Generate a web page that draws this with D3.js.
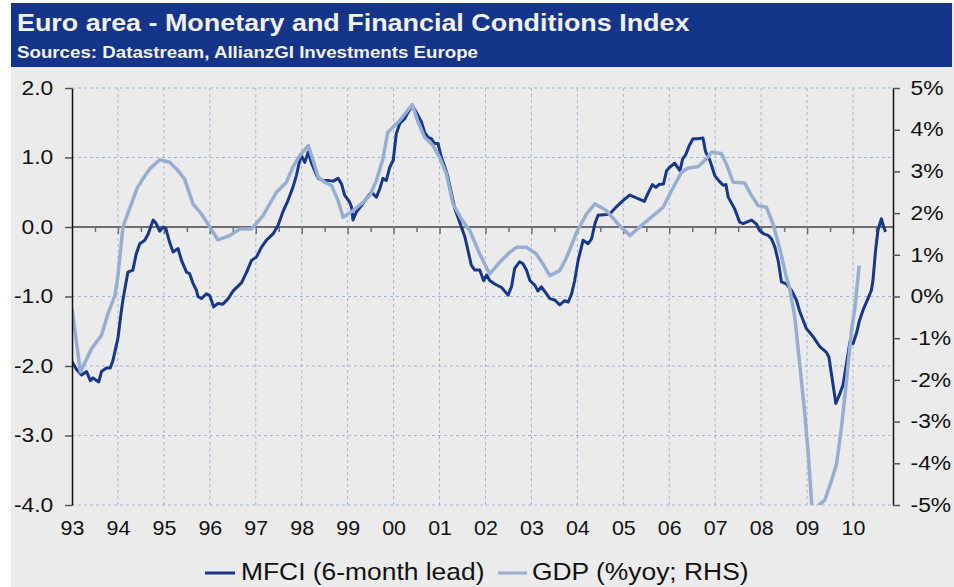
<!DOCTYPE html>
<html><head><meta charset="utf-8">
<script src="https://cdn.jsdelivr.net/npm/d3@7"></script>
<style>
body{margin:0;background:#fff}
svg{display:block}
text{font-family:"Liberation Sans",Arial,sans-serif}
</style></head>
<body><svg id="c" width="954" height="587"></svg>
<script>
// ---------- data ----------
const yearTicks = [1993,1994,1995,1996,1997,1998,1999,2000,2001,2002,2003,2004,2005,2006,2007,2008,2009,2010];
const yearLabels = ["93","94","95","96","97","98","99","00","01","02","03","04","05","06","07","08","09","10"];
const leftTicks = [-4,-3,-2,-1,0,1,2];
const rightTicks = [-5,-4,-3,-2,-1,0,1,2,3,4,5];

// MFCI (6-month lead): months since Jan 1993, index value
const mfciMonth = [0,1.2,2.5,3.8,4.8,5.5,6.2,7.0,7.7,9.0,10.0,10.7,12.0,12.9,13.3,14.2,14.6,15.9,16.8,17.7,19.0,19.9,21.2,22.0,22.9,23.8,24.5,25.5,26.4,27.7,28.6,29.9,30.7,31.6,32.5,32.9,33.8,35.1,36.0,37.0,38.1,39.4,40.8,42.1,44.3,45.6,46.9,48.2,49.5,50.8,52.5,53.8,55.1,56.4,57.7,58.6,59.5,59.9,60.8,61.7,62.5,63.4,64.3,65.6,66.9,68.2,69.5,70.4,71.2,72.5,73.0,73.4,74.3,75.6,76.9,78.2,79.5,80.4,81.2,82.1,83.0,83.9,84.7,85.6,86.9,87.8,88.9,90.4,91.3,92.1,93.0,93.9,94.7,95.6,96.5,97.4,98.2,99.1,100.0,100.8,101.7,102.6,103.4,104.3,105.2,106.5,107.5,108.3,109.1,110.4,112.2,113.9,114.8,115.6,116.9,117.8,118.7,119.6,120.9,121.7,122.6,123.9,124.8,126.1,127.4,128.7,129.6,130.5,131.3,132.2,133.5,134.8,135.7,136.6,137.4,139.6,140.5,142.2,143.9,145.7,147.4,149.5,150.4,151.6,152.5,153.3,154.5,155.3,156.1,157.4,158.8,159.5,160.3,161.2,162.2,163.5,164.8,165.5,166.6,167.9,169.2,170.1,170.8,171.4,172.3,173.1,174.4,175.3,176.2,177.5,178.8,179.6,180.7,181.8,182.7,183.6,184.5,185.3,186.6,187.9,189.2,190.1,191.8,193.6,195.3,197.0,197.7,198.4,199.0,199.5,200.4,201.4,202.3,203.2,204.0,204.9,205.7,206.8,207.9,208.8,209.2,209.9,210.5,211.4,212.0,212.5];
const mfciValue = [-1.94,-2.05,-2.13,-2.08,-2.21,-2.17,-2.20,-2.23,-2.08,-2.03,-2.03,-1.92,-1.60,-1.20,-1.05,-0.77,-0.65,-0.62,-0.38,-0.24,-0.19,-0.10,0.10,0.05,-0.06,0.00,-0.02,-0.22,-0.36,-0.31,-0.48,-0.65,-0.67,-0.81,-0.91,-1.00,-1.03,-0.96,-0.99,-1.15,-1.10,-1.11,-1.03,-0.92,-0.80,-0.65,-0.48,-0.43,-0.29,-0.19,-0.10,0.02,0.22,0.38,0.57,0.74,0.96,1.03,0.93,1.08,0.93,0.81,0.70,0.67,0.67,0.66,0.70,0.62,0.46,0.36,0.29,0.10,0.22,0.31,0.41,0.50,0.43,0.55,0.70,0.67,0.86,0.96,1.34,1.49,1.56,1.65,1.75,1.60,1.51,1.36,1.29,1.27,1.20,1.20,1.00,0.86,0.72,0.48,0.26,0.14,0.00,-0.14,-0.33,-0.55,-0.62,-0.62,-0.77,-0.69,-0.77,-0.82,-0.87,-0.98,-0.86,-0.60,-0.50,-0.53,-0.62,-0.77,-0.84,-0.92,-0.86,-0.96,-1.03,-1.05,-1.12,-1.06,-1.08,-0.96,-0.77,-0.48,-0.19,-0.24,-0.17,0.05,0.17,0.18,0.19,0.29,0.38,0.46,0.42,0.37,0.48,0.61,0.57,0.61,0.62,0.81,0.86,0.92,0.81,0.98,1.04,1.17,1.27,1.27,1.28,1.08,0.96,0.74,0.65,0.60,0.61,0.43,0.34,0.26,0.07,0.05,0.07,0.10,0.04,-0.05,-0.10,-0.12,-0.17,-0.29,-0.50,-0.79,-0.82,-0.91,-1.05,-1.22,-1.46,-1.58,-1.72,-1.80,-1.87,-2.13,-2.35,-2.54,-2.42,-2.27,-1.96,-1.65,-1.68,-1.53,-1.34,-1.17,-1.03,-0.91,-0.77,-0.33,-0.05,0.12,0.00,-0.07];

// GDP (%yoy; RHS): months since Jan 1993, percent
const gdpMonth = [0,2.2,5.1,7.7,9.4,10.7,11.2,12.0,13.3,14.2,15.5,17.0,18.5,20.3,22.9,25.5,27.3,29.4,31.6,33.8,35.5,38.1,41.2,43.8,46.9,49.9,53.4,56.0,57.7,59.5,61.7,63.0,64.3,66.0,67.8,69.5,70.8,73.4,76.0,77.8,79.5,81.2,82.5,85.6,88.9,90.4,92.1,94.3,96.0,97.8,99.5,101.7,103.9,106.5,109.1,111.7,114.3,116.1,118.7,121.3,123.0,124.8,127.4,129.2,131.8,134.4,136.6,139.6,142.6,145.7,149.2,151.8,154.4,156.6,159.2,160.9,163.5,165.7,167.0,169.6,170.9,172.7,175.7,177.5,179.2,181.4,183.1,184.9,186.6,187.4,188.8,190.1,191.4,192.3,193.2,194.0,195.3,196.6,198.4,199.7,201.0,202.3,203.6,204.5,205.6];
const gdpValue = [-0.29,-1.81,-1.25,-0.93,-0.41,-0.10,0.02,0.50,1.66,1.90,2.22,2.60,2.82,3.06,3.28,3.22,3.06,2.82,2.22,1.98,1.74,1.36,1.46,1.62,1.62,1.94,2.50,2.74,3.10,3.38,3.62,3.26,2.86,2.74,2.66,2.30,1.90,2.06,2.26,2.42,2.78,3.30,3.94,4.22,4.60,4.18,3.82,3.62,3.34,2.94,2.22,1.86,1.58,1.02,0.54,0.82,1.06,1.18,1.18,1.02,0.78,0.50,0.62,0.94,1.54,1.98,2.22,2.06,1.74,1.46,1.74,1.94,2.14,2.54,2.98,3.08,3.11,3.30,3.46,3.43,3.18,2.74,2.72,2.42,2.18,2.14,1.74,1.14,0.46,0.22,-0.50,-1.65,-2.81,-3.77,-4.97,-5.20,-4.98,-4.89,-4.41,-4.01,-3.13,-2.01,-0.81,-0.26,0.74];

// ---------- layout ----------
const k = 1.17; // horizontal text stretch of the original
const svg = d3.select('#c');
const L = 72, R = 893, T = 88, B = 505;

svg.append('rect').attr('x', 11).attr('y', 3).attr('width', 943).attr('height', 584).attr('fill', '#ebebeb');
svg.append('rect').attr('x', 11).attr('y', 3).attr('width', 941).attr('height', 64).attr('fill', '#14358a');

function sText(x, y, str, size, opts = {}) {
  const kk = opts.k || k;
  return svg.append('text')
    .attr('transform', `translate(${x},${y}) scale(${kk},1)`)
    .attr('font-size', size)
    .attr('font-weight', opts.weight || 'normal')
    .attr('fill', opts.fill || '#111')
    .attr('text-anchor', opts.anchor || 'start')
    .text(str);
}
sText(17, 31, 'Euro area - Monetary and Financial Conditions Index', 23, {weight: 'bold', fill: '#f2f2f2'});
sText(17, 58, 'Sources: Datastream, AllianzGI Investments Europe', 16, {weight: 'bold', fill: '#f2f2f2'});

const x = d3.scaleLinear().domain([1993, 2010.87]).range([L, R]);
const yL = d3.scaleLinear().domain([-4, 2]).range([B, T]);
const yR = d3.scaleLinear().domain([-5, 5]).range([B, T]);

// grid
const grid = svg.append('g').attr('stroke', '#a3b6d6').attr('stroke-width', 1).attr('stroke-dasharray', '3,3');
grid.selectAll('.h').data(leftTicks.filter(d => d !== 0)).join('line')
  .attr('x1', L).attr('x2', R).attr('y1', d => yL(d)).attr('y2', d => yL(d));
grid.selectAll('.v').data(yearTicks.filter(d => d > 1993)).join('line')
  .attr('x1', d => x(d)).attr('x2', d => x(d)).attr('y1', T).attr('y2', B);

// zero line + ticks
svg.append('line').attr('x1', L).attr('x2', R).attr('y1', yL(0)).attr('y2', yL(0))
  .attr('stroke', '#6e6e6e').attr('stroke-width', 2);
const halfYears = yearTicks.map(d => d + 0.5);
const minorAx = svg.append('g').attr('transform', `translate(0,${yL(0)})`)
  .call(d3.axisBottom(x).tickValues(halfYears).tickSize(5).tickFormat(''));
const majorAx = svg.append('g').attr('transform', `translate(0,${yL(0)})`)
  .call(d3.axisBottom(x).tickValues(yearTicks.filter(d => d > 1993)).tickSize(7).tickFormat(''));
[minorAx, majorAx].forEach(g => {
  g.select('.domain').remove();
  g.selectAll('line').attr('stroke', '#6e6e6e').attr('stroke-width', 1.5);
});

// lines
svg.append('clipPath').attr('id', 'clip').append('rect')
  .attr('x', L).attr('y', T).attr('width', R - L).attr('height', B - T);
const mfciData = mfciMonth.map((m, i) => [1993 + m / 12, mfciValue[i]]);
const gdpData = gdpMonth.map((m, i) => [1993 + m / 12, gdpValue[i]]);
const lines = svg.append('g').attr('clip-path', 'url(#clip)');
lines.append('path').datum(mfciData)
  .attr('d', d3.line().x(d => x(d[0])).y(d => yL(d[1])))
  .attr('fill', 'none').attr('stroke', '#17378b').attr('stroke-width', 3).attr('stroke-linejoin', 'round');
lines.append('path').datum(gdpData)
  .attr('d', d3.line().x(d => x(d[0])).y(d => yR(d[1])))
  .attr('fill', 'none').attr('stroke', '#97aed3').attr('stroke-width', 3.5).attr('stroke-linejoin', 'round');

// axes
function styleAxis(g, size, kk) {
  g.attr('font-family', '"Liberation Sans",Arial,sans-serif').attr('font-size', size);
  g.select('.domain').attr('stroke', '#111').attr('stroke-width', 1.5);
  g.selectAll('.tick line').attr('stroke', '#555').attr('stroke-width', 1.5);
  g.selectAll('.tick text').attr('fill', '#111').attr('transform', `scale(${kk},1)`);
}
const axL = svg.append('g').attr('transform', `translate(${L},0)`)
  .call(d3.axisLeft(yL).tickValues(leftTicks).tickSize(7).tickSizeOuter(0).tickPadding(9).tickFormat(d => d.toFixed(1)));
styleAxis(axL, 19.5, k);
const axR = svg.append('g').attr('transform', `translate(${R},0)`)
  .call(d3.axisRight(yR).tickValues(rightTicks).tickSize(7).tickSizeOuter(0).tickPadding(8).tickFormat(d => d + '%'));
styleAxis(axR, 19.5, k);
const axB = svg.append('g').attr('transform', `translate(0,${B})`)
  .call(d3.axisBottom(x).tickValues(yearTicks).tickSize(0).tickPadding(15).tickFormat((d, i) => yearLabels[i]));
styleAxis(axB, 21, 1.02);
axB.select('.domain').remove();

// legend
const legendY = 573;
svg.append('line').attr('x1', 205).attr('x2', 235).attr('y1', legendY).attr('y2', legendY)
  .attr('stroke', '#17378b').attr('stroke-width', 3);
sText(241, 580, 'MFCI (6-month lead)', 24, {k: 1.1});
svg.append('line').attr('x1', 498).attr('x2', 527).attr('y1', legendY).attr('y2', legendY)
  .attr('stroke', '#97aed3').attr('stroke-width', 3);
sText(532, 580, 'GDP (%yoy; RHS)', 24, {k: 1.1});
</script>
</body></html>
